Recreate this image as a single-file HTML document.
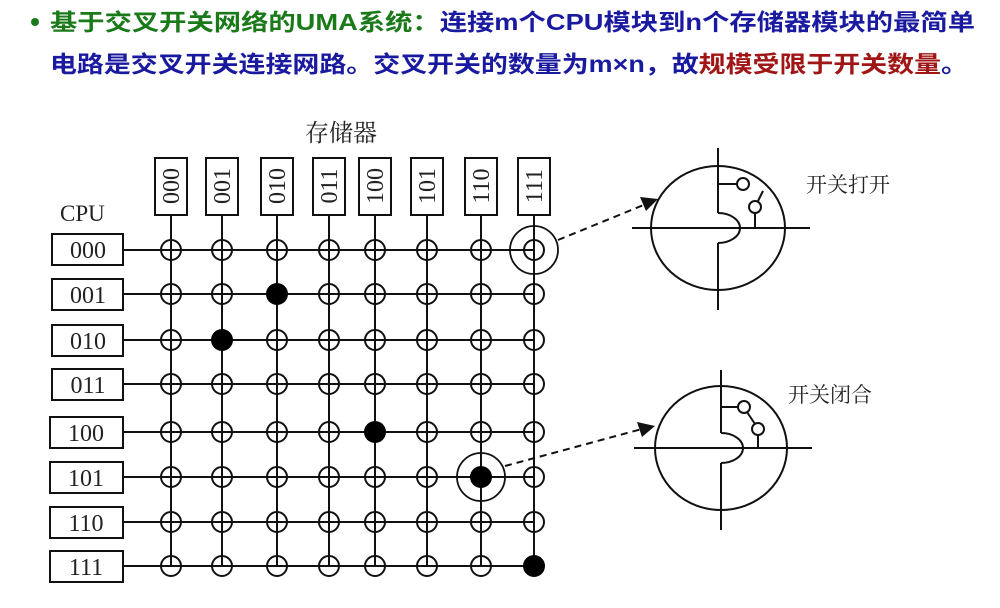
<!DOCTYPE html>
<html><head><meta charset="utf-8"><style>
html,body{margin:0;padding:0;background:#fff;width:1000px;height:608px;overflow:hidden}
svg{display:block}
.t{font-family:"Liberation Sans","Noto Sans CJK SC",sans-serif;font-weight:bold;font-size:23px}
.s{font-family:"Liberation Serif","Noto Serif CJK SC",serif;fill:#222}
</style></head><body>
<svg width="1000" height="608" viewBox="0 0 1000 608" xmlns="http://www.w3.org/2000/svg">
<defs><circle id="o" r="10" fill="none" stroke="#111" stroke-width="2"/></defs>
<circle cx="35" cy="22" r="4" fill="#1a7a1a"/>
<text class="t" x="50" y="30" textLength="925" lengthAdjust="spacingAndGlyphs"><tspan fill="#1a7a1a">基于交叉开关网络的UMA系统：</tspan><tspan fill="#1a1aa0">连接m个CPU模块到n个存储器模块的最简单</tspan></text>
<text class="t" x="50" y="72" textLength="918" lengthAdjust="spacingAndGlyphs"><tspan fill="#1a1aa0">电路是交叉开关连接网路。交叉开关的数量为m×n，故</tspan><tspan fill="#a01515">规模受限于开关数量</tspan><tspan fill="#1a1aa0">。</tspan></text>

<text class="s" x="305" y="141" font-size="24">存储器</text>
<text class="s" x="60" y="221" font-size="23">CPU</text>

<g stroke="#111" stroke-width="2" fill="none">
<line x1="123" y1="250" x2="534" y2="250"/>
<line x1="123" y1="294" x2="534" y2="294"/>
<line x1="123" y1="340" x2="534" y2="340"/>
<line x1="123" y1="384" x2="534" y2="384"/>
<line x1="123" y1="432" x2="534" y2="432"/>
<line x1="123" y1="477" x2="534" y2="477"/>
<line x1="123" y1="522" x2="534" y2="522"/>
<line x1="123" y1="566" x2="534" y2="566"/>
<line x1="171" y1="215" x2="171" y2="566"/>
<line x1="222" y1="215" x2="222" y2="566"/>
<line x1="277" y1="215" x2="277" y2="566"/>
<line x1="329" y1="215" x2="329" y2="566"/>
<line x1="375" y1="215" x2="375" y2="566"/>
<line x1="427" y1="215" x2="427" y2="566"/>
<line x1="481" y1="215" x2="481" y2="566"/>
<line x1="534" y1="215" x2="534" y2="566"/>
</g>

<g stroke="#111" stroke-width="2" fill="#fff">
<rect x="52" y="234" width="71" height="31"/>
<rect x="52" y="279" width="71" height="31"/>
<rect x="52" y="325" width="71" height="31"/>
<rect x="52" y="369" width="71" height="31"/>
<rect x="50" y="417" width="73" height="31"/>
<rect x="50" y="462" width="73" height="31"/>
<rect x="50" y="507" width="73" height="31"/>
<rect x="50" y="551" width="73" height="31"/>
</g>
<g class="s" font-size="24" text-anchor="middle">
<text x="88" y="258">000</text>
<text x="88" y="303">001</text>
<text x="88" y="349">010</text>
<text x="88" y="393">011</text>
<text x="86" y="441">100</text>
<text x="86" y="486">101</text>
<text x="86" y="531">110</text>
<text x="86" y="575">111</text>
</g>

<g stroke="#111" stroke-width="2" fill="#fff">
<rect x="155" y="158" width="32" height="57"/>
<rect x="206" y="158" width="32" height="57"/>
<rect x="261" y="158" width="32" height="57"/>
<rect x="313" y="158" width="32" height="57"/>
<rect x="359" y="158" width="32" height="57"/>
<rect x="411" y="158" width="32" height="57"/>
<rect x="465" y="158" width="32" height="57"/>
<rect x="518" y="158" width="32" height="57"/>
</g>
<g class="s" font-size="24" text-anchor="middle">
<text transform="translate(179,186) rotate(-90)">000</text>
<text transform="translate(230,186) rotate(-90)">001</text>
<text transform="translate(285,186) rotate(-90)">010</text>
<text transform="translate(337,186) rotate(-90)">011</text>
<text transform="translate(383,186) rotate(-90)">100</text>
<text transform="translate(435,186) rotate(-90)">101</text>
<text transform="translate(489,186) rotate(-90)">110</text>
<text transform="translate(542,186) rotate(-90)">111</text>
</g>

<!-- crosspoints -->
<g>
<use href="#o" x="171" y="250"/><use href="#o" x="222" y="250"/><use href="#o" x="277" y="250"/><use href="#o" x="329" y="250"/><use href="#o" x="375" y="250"/><use href="#o" x="427" y="250"/><use href="#o" x="481" y="250"/><use href="#o" x="534" y="250"/>
<use href="#o" x="171" y="294"/><use href="#o" x="222" y="294"/><use href="#o" x="329" y="294"/><use href="#o" x="375" y="294"/><use href="#o" x="427" y="294"/><use href="#o" x="481" y="294"/><use href="#o" x="534" y="294"/>
<use href="#o" x="171" y="340"/><use href="#o" x="277" y="340"/><use href="#o" x="329" y="340"/><use href="#o" x="375" y="340"/><use href="#o" x="427" y="340"/><use href="#o" x="481" y="340"/><use href="#o" x="534" y="340"/>
<use href="#o" x="171" y="384"/><use href="#o" x="222" y="384"/><use href="#o" x="277" y="384"/><use href="#o" x="329" y="384"/><use href="#o" x="375" y="384"/><use href="#o" x="427" y="384"/><use href="#o" x="481" y="384"/><use href="#o" x="534" y="384"/>
<use href="#o" x="171" y="432"/><use href="#o" x="222" y="432"/><use href="#o" x="277" y="432"/><use href="#o" x="329" y="432"/><use href="#o" x="427" y="432"/><use href="#o" x="481" y="432"/><use href="#o" x="534" y="432"/>
<use href="#o" x="171" y="477"/><use href="#o" x="222" y="477"/><use href="#o" x="277" y="477"/><use href="#o" x="329" y="477"/><use href="#o" x="375" y="477"/><use href="#o" x="427" y="477"/><use href="#o" x="534" y="477"/>
<use href="#o" x="171" y="522"/><use href="#o" x="222" y="522"/><use href="#o" x="277" y="522"/><use href="#o" x="329" y="522"/><use href="#o" x="375" y="522"/><use href="#o" x="427" y="522"/><use href="#o" x="481" y="522"/><use href="#o" x="534" y="522"/>
<use href="#o" x="171" y="566"/><use href="#o" x="222" y="566"/><use href="#o" x="277" y="566"/><use href="#o" x="329" y="566"/><use href="#o" x="375" y="566"/><use href="#o" x="427" y="566"/><use href="#o" x="481" y="566"/>
</g>
<g stroke="#111" stroke-width="1" fill="none">
<path d="M161 250h20M171 240v20"/>
</g>
<g fill="#000">
<circle cx="277" cy="294" r="11"/>
<circle cx="222" cy="340" r="11"/>
<circle cx="375" cy="432" r="11"/>
<circle cx="481" cy="477" r="11"/>
<circle cx="534" cy="566" r="11"/>
</g>
<g stroke="#111" stroke-width="1.8" fill="none">
<circle cx="534" cy="250" r="24"/>
<circle cx="481" cy="477" r="24"/>
</g>

<g stroke="#111" stroke-width="2" stroke-dasharray="7,5" fill="none">
<line x1="558" y1="240" x2="646" y2="204"/>
<line x1="505" y1="466" x2="642" y2="429"/>
</g>
<polygon points="658,199 640,197 646,211" fill="#111"/>
<polygon points="655,426 637,422 642,437" fill="#111"/>

<g stroke="#111" stroke-width="2" fill="none">
<ellipse cx="718" cy="228" rx="67" ry="62"/>
<line x1="632" y1="228" x2="810" y2="228"/>
<line x1="718" y1="148" x2="718" y2="213"/>
<line x1="718" y1="243" x2="718" y2="310"/>
<path d="M718 213 A22 15 0 0 1 718 243"/>
<line x1="718" y1="184" x2="737" y2="184"/>
<circle cx="743" cy="184" r="6"/>
<circle cx="755" cy="207" r="6"/>
<line x1="755" y1="213" x2="755" y2="228"/>
<line x1="758" y1="201" x2="763" y2="191"/>
</g>
<text class="s" x="806" y="192" font-size="21" fill="#333">开关打开</text>

<g stroke="#111" stroke-width="2" fill="none">
<ellipse cx="721" cy="448" rx="66" ry="62"/>
<line x1="634" y1="448" x2="812" y2="448"/>
<line x1="721" y1="370" x2="721" y2="433"/>
<line x1="721" y1="463" x2="721" y2="530"/>
<path d="M721 433 A22 15 0 0 1 721 463"/>
<line x1="721" y1="407" x2="738" y2="407"/>
<circle cx="744" cy="407" r="6"/>
<circle cx="758" cy="429" r="6"/>
<line x1="747" y1="412" x2="755" y2="424"/>
<line x1="758" y1="435" x2="758" y2="448"/>
</g>
<text class="s" x="788" y="402" font-size="21" fill="#333">开关闭合</text>
</svg>
</body></html>
